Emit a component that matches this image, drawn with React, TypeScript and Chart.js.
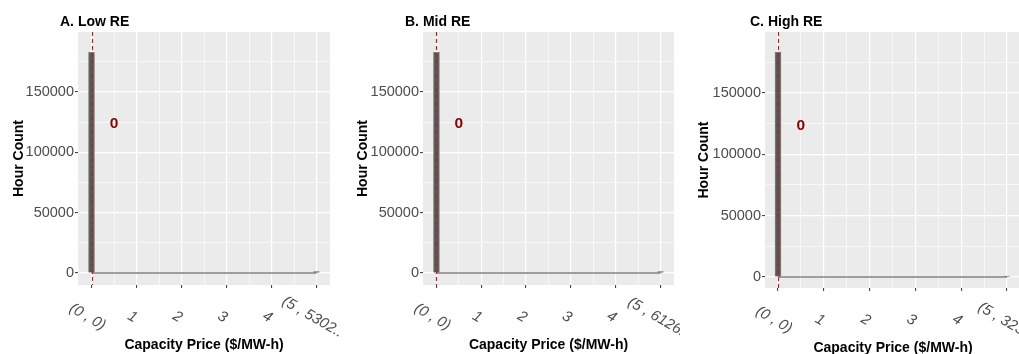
import React, { useEffect, useRef } from "react";
import { Chart, registerables } from "chart.js";

Chart.register(...registerables);

// ---------------- data ----------------
const panelTitles = ["A. Low RE", "B. Mid RE", "C. High RE"];
const binCenters = [0, 5];
const countsLow = [182900, 1100];
const countsMid = [182800, 1200];
const countsHigh = [183300, 700];
const meanPrice = [0, 0, 0];
const meanLabels = ["0", "0", "0"];
const meanLabelX = [0.5, 0.5, 0.5];
const meanLabelY = [125000, 125000, 124500];
const xTickValues = [0, 1, 2, 3, 4, 5];
const xMinorValues = [0.5, 1.5, 2.5, 3.5, 4.5];
const xTickLabelsLow = ["(0 , 0)", "1", "2", "3", "4", "(5 , 5302.."];
const xTickLabelsMid = ["(0 , 0)", "1", "2", "3", "4", "(5 , 6126."];
const xTickLabelsHigh = ["(0 , 0)", "1", "2", "3", "4", "(5 , 323."];
const yTickValues = [0, 50000, 100000, 150000];
const yMinorValues = [25000, 75000, 125000, 175000];
const xAxisTitle = "Capacity Price ($/MW-h)";
const yAxisTitle = "Hour Count";

const countsByPanel = [countsLow, countsMid, countsHigh];
const xLabelsByPanel = [xTickLabelsLow, xTickLabelsMid, xTickLabelsHigh];

// ---------------- layout / style ----------------
const H = 354;
const FONT = '"Liberation Sans", Arial, Helvetica, sans-serif';
const layouts = [
  { w: 340, left: 78, right: 330, top: 32, bottom: 285, xMin: -0.3, xMax: 5.3, yMin: -9940, yMax: 199700, titleX: 60, yTitleX: 23, xTitleY: 349 },
  { w: 340, left: 83, right: 334, top: 32, bottom: 285, xMin: -0.3, xMax: 5.3, yMin: -9940, yMax: 199700, titleX: 65, yTitleX: 27, xTitleY: 349 },
  { w: 339, left: 85, right: 339, top: 32, bottom: 288, xMin: -0.284, xMax: 5.26, yMin: -8970, yMax: 199700, titleX: 70, yTitleX: 28, xTitleY: 352 },
];

function Panel({ idx }: { idx: number }) {
  const ref = useRef<HTMLCanvasElement>(null);
  useEffect(() => {
    const L = layouts[idx];
    const counts = countsByPanel[idx];
    const xLabels = xLabelsByPanel[idx];
    const allX = [...xTickValues, ...xMinorValues].sort((a, b) => a - b);
    const allY = [...yTickValues, ...yMinorValues].sort((a, b) => a - b);
    const isMajorX = (v: number) => xTickValues.includes(v);
    const isMajorY = (v: number) => yTickValues.includes(v);

    const decor = {
      id: "ggdecor",
      beforeDraw(chart: any) {
        const { ctx, chartArea: a } = chart;
        ctx.save();
        ctx.fillStyle = "#EBEBEB";
        ctx.fillRect(a.left, a.top, a.right - a.left, a.bottom - a.top);
        ctx.restore();
      },
      afterDatasetsDraw(chart: any) {
        const { ctx, chartArea: a, scales } = chart;
        const xs = scales.x;
        const ys = scales.y;
        ctx.save();
        const vx = Math.round(xs.getPixelForValue(meanPrice[idx])) + 0.5;
        ctx.strokeStyle = "#B22222";
        ctx.lineWidth = 1.2;
        ctx.setLineDash([4, 3]);
        ctx.beginPath();
        ctx.moveTo(vx, a.top);
        ctx.lineTo(vx, a.bottom);
        ctx.stroke();
        ctx.setLineDash([]);
        const size = 15.5;
        ctx.font = `bold ${size}px ${FONT}`;
        ctx.fillStyle = "#8B0000";
        ctx.textAlign = "center";
        ctx.textBaseline = "alphabetic";
        ctx.fillText(
          meanLabels[idx],
          xs.getPixelForValue(meanLabelX[idx]),
          ys.getPixelForValue(meanLabelY[idx]) + size * 0.358
        );
        ctx.restore();
      },
      afterDraw(chart: any) {
        const { ctx, chartArea: a, scales } = chart;
        const xs = scales.x;
        ctx.save();
        // panel title
        ctx.fillStyle = "#000000";
        ctx.font = `bold 14px ${FONT}`;
        ctx.textAlign = "left";
        ctx.textBaseline = "alphabetic";
        ctx.fillText(panelTitles[idx], L.titleX, 26);
        // x axis title
        ctx.textAlign = "center";
        ctx.fillText(xAxisTitle, (a.left + a.right) / 2 + (idx === 2 ? 1 : 0), L.xTitleY);
        // y axis title
        ctx.save();
        ctx.translate(L.yTitleX, (a.top + a.bottom) / 2);
        ctx.rotate(-Math.PI / 2);
        ctx.fillText(yAxisTitle, 0, 0);
        ctx.restore();
        // x tick labels, rotated clockwise
        ctx.fillStyle = "#4D4D4D";
        ctx.font = `italic 15px ${FONT}`;
        ctx.textAlign = "center";
        ctx.textBaseline = "middle";
        xTickValues.forEach((v, i) => {
          const px = xs.getPixelForValue(v) - 4;
          const py = a.bottom + 32;
          ctx.save();
          ctx.translate(px, py);
          ctx.rotate(Math.PI / 6);
          ctx.fillText(xLabels[i], 0, 0);
          ctx.restore();
        });
        ctx.restore();
      },
    };

    const chart = new Chart(ref.current as HTMLCanvasElement, {
      type: "bar",
      data: {
        datasets: [
          {
            type: "line",
            data: [
              { x: binCenters[0], y: 0 },
              { x: binCenters[binCenters.length - 1], y: 0 },
            ],
            borderColor: "#808080",
            borderWidth: 1.6,
            pointRadius: 0,
            order: 2,
          } as any,
          {
            type: "bar",
            data: binCenters.map((x, i) => ({ x, y: counts[i] })),
            backgroundColor: "#595959",
            borderColor: "#828282",
            borderWidth: 1,
            barThickness: 6,
            order: 1,
          } as any,
        ],
      },
      options: {
        responsive: false,
        animation: false,
        events: [],
        layout: { padding: { top: L.top, right: L.w - L.right, left: 0, bottom: 0 } },
        plugins: { legend: { display: false }, tooltip: { enabled: false }, title: { display: false } },
        scales: {
          x: {
            type: "linear",
            min: L.xMin,
            max: L.xMax,
            offset: false,
            afterBuildTicks: (s: any) => {
              s.ticks = allX.map((v) => ({ value: v }));
            },
            afterFit: (s: any) => {
              s.height = H - L.bottom;
            },
            ticks: { display: false },
            border: { display: false },
            grid: {
              offset: false,
              color: "#FFFFFF",
              lineWidth: (c: any) => (c.tick && isMajorX(c.tick.value) ? 1.2 : 0.6),
              drawTicks: true,
              tickLength: 3,
              tickWidth: 1,
              tickColor: (c: any) => (c.tick && isMajorX(c.tick.value) ? "#333333" : "rgba(0,0,0,0)"),
            },
          },
          y: {
            type: "linear",
            min: L.yMin,
            max: L.yMax,
            afterBuildTicks: (s: any) => {
              s.ticks = allY.map((v) => ({ value: v }));
            },
            afterFit: (s: any) => {
              s.width = L.left;
            },
            ticks: {
              autoSkip: false,
              color: "#4D4D4D",
              font: { family: FONT, size: 14.5 },
              padding: 1,
              callback: (v: any) => (isMajorY(Number(v)) ? String(v) : ""),
            },
            border: { display: false },
            grid: {
              color: "#FFFFFF",
              lineWidth: (c: any) => (c.tick && isMajorY(c.tick.value) ? 1.2 : 0.6),
              drawTicks: true,
              tickLength: 3,
              tickWidth: 1,
              tickColor: (c: any) => (c.tick && isMajorY(c.tick.value) ? "#333333" : "rgba(0,0,0,0)"),
            },
          },
        },
      } as any,
      plugins: [decor],
    });
    return () => chart.destroy();
  }, [idx]);

  const L = layouts[idx];
  return <canvas ref={ref} width={L.w} height={H} style={{ display: "block", width: L.w, height: H }} />;
}

export default function App() {
  return (
    <div
      style={{
        position: "absolute",
        left: 0,
        top: 0,
        width: 1019,
        height: H,
        display: "flex",
        background: "#FFFFFF",
        overflow: "hidden",
      }}
    >
      {[0, 1, 2].map((i) => (
        <Panel key={i} idx={i} />
      ))}
    </div>
  );
}
